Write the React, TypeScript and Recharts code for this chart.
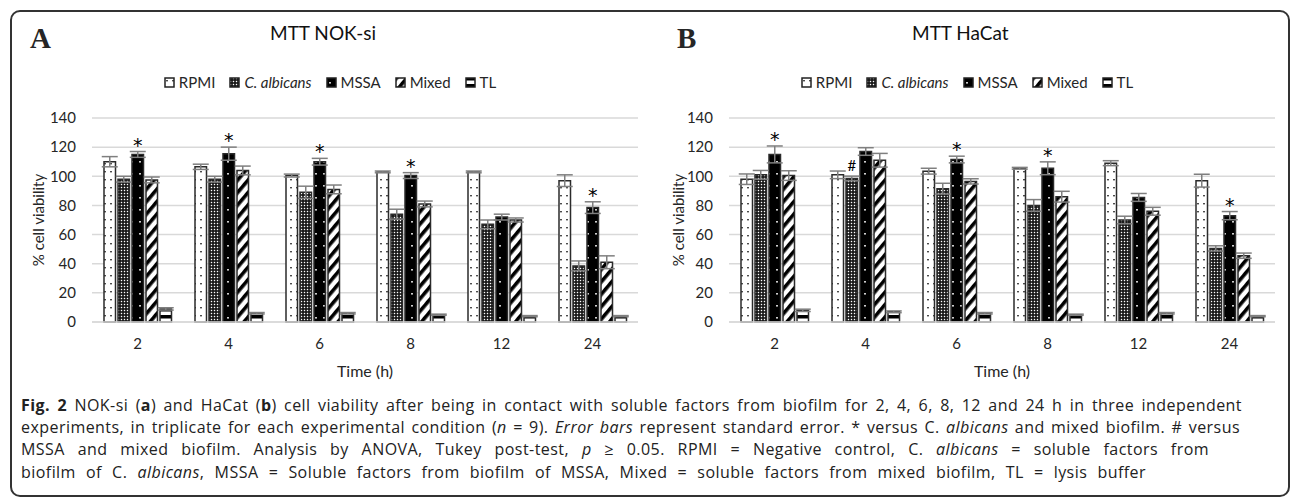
import React from 'react';
import { BarChart, Bar, XAxis, YAxis, CartesianGrid, ErrorBar, LabelList, Legend } from 'recharts';

const times = ['2', '4', '6', '8', '12', '24'];
const yTicks = [0, 20, 40, 60, 80, 100, 120, 140];

// NOK-si (panel A)
const nokRpmi = [110, 106.5, 100.5, 103, 103, 97];
const nokRpmiErr = [3.5, 1.8, 1, 0.6, 0.6, 4];
const nokCalb = [98, 98, 89, 74, 67, 38.5];
const nokCalbErr = [2, 2, 4.2, 3.4, 3, 3.4];
const nokMssa = [115, 115.5, 110, 100.5, 72, 78.5];
const nokMssaErr = [2, 4.5, 2.3, 2, 2, 4];
const nokMixed = [97.5, 104, 91, 81, 70, 41];
const nokMixedErr = [2, 3, 3, 2, 1.4, 4.4];
const nokTl = [9, 6, 6, 5, 4, 4];
const nokTlErr = [0.8, 0.5, 0.5, 0.4, 0.4, 0.4];
const nokMssaMark = ['*', '*', '*', '*', '', '*'];
const nokCalbMark = ['', '', '', '', '', ''];

// HaCat (panel B)
const hacRpmi = [98, 101, 103.5, 105.5, 109, 97];
const hacRpmiErr = [3.6, 2.6, 2, 0.6, 1.7, 4.4];
const hacCalb = [101, 98.5, 91.5, 80, 70, 50.5];
const hacCalbErr = [3, 1.6, 3.7, 4, 2.6, 1.8];
const hacMssa = [115, 117, 111.5, 105.5, 85.5, 73];
const hacMssaErr = [5.8, 2.6, 2.3, 4.4, 2.7, 2.8];
const hacMixed = [100.5, 111, 96.5, 86, 76, 45.5];
const hacMixedErr = [3.3, 4.7, 1.8, 3.7, 2.7, 1.8];
const hacTl = [8, 7, 6, 5, 6, 4];
const hacTlErr = [0.8, 0.6, 0.5, 0.4, 0.5, 0.4];
const hacMssaMark = ['*', '', '*', '*', '', '*'];
const hacCalbMark = ['', '#', '', '', '', ''];

const series = [
  { key: 'rpmi', name: 'RPMI', fill: 'url(#pat-rpmi)' },
  { key: 'calb', name: 'C. albicans', fill: 'url(#pat-calb)' },
  { key: 'mssa', name: 'MSSA', fill: 'url(#pat-mssa)' },
  { key: 'mixed', name: 'Mixed', fill: 'url(#pat-mixed)' },
  { key: 'tl', name: 'TL', fill: 'url(#pat-tl)' },
];

const buildRows = (
  rpmi: number[], rpmiErr: number[], calb: number[], calbErr: number[],
  mssa: number[], mssaErr: number[], mixed: number[], mixedErr: number[],
  tl: number[], tlErr: number[], mssaMark: string[], calbMark: string[]
) =>
  times.map((t, i) => ({
    time: t,
    rpmi: rpmi[i], rpmiErr: rpmiErr[i],
    calb: calb[i], calbErr: calbErr[i],
    mssa: mssa[i], mssaErr: mssaErr[i],
    mixed: mixed[i], mixedErr: mixedErr[i],
    tl: tl[i], tlErr: tlErr[i],
    mssaMark: mssaMark[i], calbMark: calbMark[i],
  }));

const nokData = buildRows(nokRpmi, nokRpmiErr, nokCalb, nokCalbErr, nokMssa, nokMssaErr, nokMixed, nokMixedErr, nokTl, nokTlErr, nokMssaMark, nokCalbMark);
const hacData = buildRows(hacRpmi, hacRpmiErr, hacCalb, hacCalbErr, hacMssa, hacMssaErr, hacMixed, hacMixedErr, hacTl, hacTlErr, hacMssaMark, hacCalbMark);

const FONT = 'Lato, "Open Sans", sans-serif';
const TEXT = '#262626';

const renderLegend = () => (
  <div style={{ display: 'flex', justifyContent: 'center', gap: 14, height: 20, alignItems: 'center', fontFamily: FONT, fontSize: 15, color: TEXT }}>
    {series.map((s) => (
      <div key={s.key} style={{ display: 'flex', alignItems: 'center', gap: 4 }}>
        <svg width="11" height="11">
          <rect x="1" y="1" width="9" height="9" fill={s.fill} stroke="#222" strokeWidth="1.5" />
        </svg>
        <span style={{ fontStyle: s.key === 'calb' ? 'italic' : 'normal' }}>{s.name}</span>
      </div>
    ))}
  </div>
);

// marker ("*" or "#") above the whisker of a bar
const markContent = (rows: any[], valKey: string, errKey: string) => (props: any) => {
  const { x, y, width, height, value, index } = props;
  if (!value) return null;
  const row = rows[index];
  const pxPerUnit = height / row[valKey];
  const top = y - row[errKey] * pxPerUnit;
  const isStar = value === '*';
  return (
    <text x={x + width / 2} y={isStar ? top : top - 5} textAnchor="middle" fontSize={isStar ? 19 : 15}
      fill="#000" fontFamily={isStar ? '"DejaVu Sans", sans-serif' : FONT}>
      {value}
    </text>
  );
};

function Panel({ data, left }: { data: any[]; left: number }) {
  return (
    <div style={{ position: 'absolute', left, top: 0 }}>
      <BarChart width={660} height={400} data={data} margin={{ top: 98, right: 22, bottom: 48, left: 32 }} barGap={2.5} barSize={11.5}>
        <CartesianGrid vertical={false} stroke="#d9d9d9" strokeWidth={1.5} />
        <XAxis dataKey="time" axisLine={{ stroke: '#d9d9d9', strokeWidth: 1.5 }} tickLine={false} tickMargin={10} height={30}
          tick={{ fontSize: 15, fill: TEXT, fontFamily: FONT }} />
        <YAxis domain={[0, 140]} ticks={yTicks} width={60} axisLine={false} tickLine={false} tickMargin={10}
          tick={{ fontSize: 15, fill: TEXT, fontFamily: FONT }} />
        <Legend verticalAlign="top" content={renderLegend} wrapperStyle={{ top: 72, left: 0, width: 660, height: 20 }} />
        {series.map((s) => (
          <Bar key={s.key} dataKey={s.key} name={s.name} fill={s.fill} stroke="#2b2b2b" strokeWidth={1.5} isAnimationActive={false}>
            <ErrorBar dataKey={`${s.key}Err`} width={8} stroke="#7f7f7f" strokeWidth={1.5} />
            {s.key === 'mssa' && <LabelList dataKey="mssaMark" content={markContent(data, 'mssa', 'mssaErr')} />}
            {s.key === 'calb' && <LabelList dataKey="calbMark" content={markContent(data, 'calb', 'calbErr')} />}
          </Bar>
        ))}
      </BarChart>
    </div>
  );
}

const abs = (l: number, t: number, extra: React.CSSProperties = {}): React.CSSProperties => ({ position: 'absolute', left: l, top: t, ...extra });

export default function App() {
  const capLine: React.CSSProperties = {
    position: 'absolute', left: 21, fontFamily: '"Open Sans", sans-serif', fontSize: 16, letterSpacing: 0.45,
    lineHeight: '22px', color: '#222', textAlign: 'justify', textAlignLast: 'justify', whiteSpace: 'normal',
  };
  return (
    <div style={{ position: 'absolute', left: 0, top: 0, width: 1292, height: 501, background: '#fff', fontFamily: FONT, color: TEXT }}>
      <svg width="0" height="0" style={{ position: 'absolute' }}>
        <defs>
          <pattern id="pat-rpmi" width="6" height="8" patternUnits="userSpaceOnUse">
            <rect width="6" height="8" fill="#fff" />
            <rect x="2.3" y="3" width="1.4" height="1.4" fill="#000" />
          </pattern>
          <pattern id="pat-calb" width="3" height="3" patternUnits="userSpaceOnUse">
            <rect width="3" height="3" fill="#111" />
            <rect x="0.8" y="0.8" width="1.4" height="1.4" fill="#fff" />
          </pattern>
          <pattern id="pat-mssa" width="8" height="12" patternUnits="userSpaceOnUse">
            <rect width="8" height="12" fill="#000" />
            <rect x="3.2" y="5" width="1.6" height="1.6" fill="#fff" />
          </pattern>
          <pattern id="pat-mixed" width="8" height="8" patternUnits="userSpaceOnUse" patternTransform="rotate(40)">
            <rect width="8" height="8" fill="#fff" />
            <rect width="3.6" height="8" fill="#000" />
          </pattern>
          <pattern id="pat-tl" width="6" height="7" patternUnits="userSpaceOnUse">
            <rect width="6" height="7" fill="#fff" />
            <rect width="6" height="3.5" fill="#000" />
          </pattern>
        </defs>
      </svg>

      <div style={abs(10, 10, { width: 1276, height: 483, border: '2px solid #333', borderRadius: 10 })} />

      <div style={abs(30, 22, { fontFamily: '"Liberation Serif", serif', fontWeight: 'bold', fontSize: 29 })}>A</div>
      <div style={abs(677, 22, { fontFamily: '"Liberation Serif", serif', fontWeight: 'bold', fontSize: 29 })}>B</div>
      <div style={abs(270, 21, { fontSize: 19, color: '#111' })}>MTT NOK-si</div>
      <div style={abs(912, 21, { fontSize: 19, color: '#111' })}>MTT HaCat</div>

      <Panel data={nokData} left={0} />
      <Panel data={hacData} left={637} />

      <div style={abs(38, 220, { transform: 'translate(-50%, -50%) rotate(-90deg)', fontSize: 15, whiteSpace: 'nowrap' })}>% cell viability</div>
      <div style={abs(678, 220, { transform: 'translate(-50%, -50%) rotate(-90deg)', fontSize: 15, whiteSpace: 'nowrap' })}>% cell viability</div>
      <div style={abs(365, 370, { transform: 'translate(-50%, -50%)', fontSize: 16, whiteSpace: 'nowrap' })}>Time (h)</div>
      <div style={abs(1002, 370, { transform: 'translate(-50%, -50%)', fontSize: 16, whiteSpace: 'nowrap' })}>Time (h)</div>

      <div style={{ ...capLine, top: 394, width: 1221 }}>
        <b>Fig. 2</b> NOK-si (<b>a</b>) and HaCat (<b>b</b>) cell viability after being in contact with soluble factors from biofilm for 2, 4, 6, 8, 12 and 24 h in three independent
      </div>
      <div style={{ ...capLine, top: 416, width: 1219 }}>
        experiments, in triplicate for each experimental condition (<i>n</i> = 9). <i>Error bars</i> represent standard error. * versus C. <i>albicans</i> and mixed biofilm. # versus
      </div>
      <div style={{ ...capLine, top: 438, width: 1188 }}>
        MSSA and mixed biofilm. Analysis by ANOVA, Tukey post-test, <i>p</i> ≥ 0.05. RPMI = Negative control, C. <i>albicans</i> = soluble factors from
      </div>
      <div style={{ ...capLine, top: 461, width: 1125 }}>
        biofilm of C. <i>albicans</i>, MSSA = Soluble factors from biofilm of MSSA, Mixed = soluble factors from mixed biofilm, TL = lysis buffer
      </div>
    </div>
  );
}
